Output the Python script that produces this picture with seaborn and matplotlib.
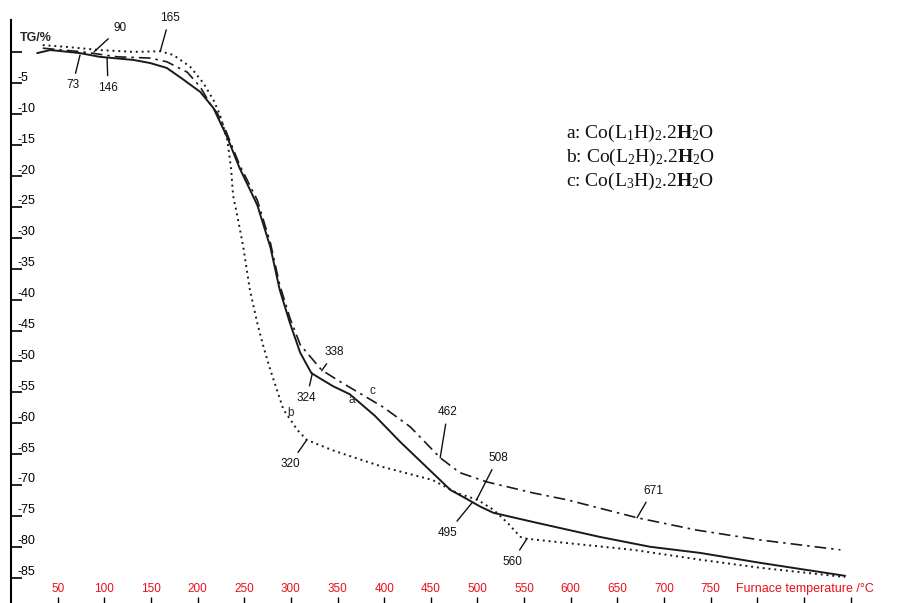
import numpy as np
import pandas as pd
import matplotlib
matplotlib.use('Agg')
import matplotlib.pyplot as plt
import matplotlib.transforms as mtransforms
import seaborn as sns

# TG curves (temperature in degC, mass change in %)
temp_a = [28, 42, 74, 95, 131, 149, 167, 184, 203, 217, 232, 245, 264, 278, 288, 299, 310, 322,
          345, 363, 390, 417, 444, 471, 489, 503, 517, 560, 631, 685, 739, 803, 894]
tg_a = [-0.1, 0.4, -0.1, -0.7, -1.2, -1.7, -2.5, -4.3, -6.4, -9.0, -13.8, -18.7, -24.7, -31.5, -38.4,
        -43.8, -48.6, -51.9, -54.0, -55.3, -58.8, -63.0, -66.9, -70.8, -72.3, -73.5, -74.5, -76.0,
        -78.4, -80.0, -81.0, -82.6, -84.7]

temp_b = [34, 60, 95, 131, 160, 174, 192, 206, 217, 224, 232, 236, 238, 242, 249, 256, 264, 270,
          278, 292, 307, 317, 345, 399, 452, 478, 500, 517, 532, 546, 553, 596, 667, 739, 803, 894]
tg_b = [1.2, 0.9, 0.4, 0.1, 0.2, -0.4, -2.3, -4.9, -7.7, -10.1, -14.3, -19.0, -23.1, -26.0, -31.5,
        -38.4, -43.8, -47.3, -51.4, -57.8, -61.1, -62.7, -64.4, -67.1, -69.2, -71.3, -72.4, -74.0,
        -76.1, -78.4, -78.7, -79.4, -80.5, -82.1, -83.4, -84.9]

temp_c = [34, 77, 114, 149, 167, 189, 203, 213, 221, 229, 245, 264, 278, 288, 299, 310, 324, 333,
          353, 371, 399, 428, 460, 481, 510, 560, 596, 671, 735, 803, 889]
tg_c = [0.7, 0.1, -0.7, -0.9, -1.5, -3.2, -5.6, -8.2, -9.8, -12.2, -18.2, -23.9, -30.8, -37.6, -43.0,
        -47.3, -49.8, -51.4, -53.3, -54.9, -57.4, -60.6, -65.6, -68.0, -69.5, -71.3, -72.4, -75.3,
        -77.3, -78.9, -80.5]

legend_lines = [r'a: Co(L$_1$H)$_2$.2$\mathbf{H}_2$O',
                r'b: Co(L$_2$H)$_2$.2$\mathbf{H}_2$O',
                r'c: Co(L$_3$H)$_2$.2$\mathbf{H}_2$O']

# peak labels: text, point on curve, label position
peak_labels = ['73', '90', '146', '165', '338', '324', '320', '462', '508', '495', '560', '671']
peak_points = [(74, -0.4), (89, 0.1), (103, -0.9), (160, 0.2), (333, -51.5), (323, -51.9),
               (317, -62.7), (460, -65.6), (499, -72.4), (494, -72.9), (553, -78.7), (671, -75.3)]
peak_text = [(66, -5.3), (117, 4.0), (104, -5.7), (170, 5.6), (347, -48.5), (317, -55.9),
             (299, -66.6), (468, -58.2), (522, -65.6), (468, -77.7), (537, -82.4), (688, -70.9)]

x_ticks = list(range(50, 901, 50))
x_ticklabels = [str(t) if t <= 750 else '' for t in x_ticks]
y_ticks = list(range(-85, 1, 5))
y_ticklabels = [str(t) if t != 0 else '' for t in y_ticks]

sns.set_theme(style='white')
plt.rcParams['font.family'] = ['Liberation Sans', 'DejaVu Sans']
plt.rcParams['mathtext.fontset'] = 'custom'
plt.rcParams['mathtext.rm'] = 'Liberation Serif'
plt.rcParams['mathtext.it'] = 'Liberation Serif:italic'
plt.rcParams['mathtext.bf'] = 'Liberation Serif:bold'

fig = plt.figure(figsize=(8.98, 6.03), dpi=100)
ax = fig.add_axes([11 / 898, 0, 887 / 898, 583 / 603])

df_a = pd.DataFrame({'T': temp_a, 'TG': tg_a})
df_b = pd.DataFrame({'T': temp_b, 'TG': tg_b})
df_c = pd.DataFrame({'T': temp_c, 'TG': tg_c})

line_col = '#1a1a1a'
sns.lineplot(data=df_a, x='T', y='TG', ax=ax, color=line_col, lw=1.4, estimator=None)
sns.lineplot(data=df_b, x='T', y='TG', ax=ax, color=line_col, lw=1.4, estimator=None,
             linestyle=(0, (1, 2)))
sns.lineplot(data=df_c, x='T', y='TG', ax=ax, color=line_col, lw=1.2, estimator=None,
             linestyle=(0, (7, 3, 1.5, 3)))

ax.set_xlim(0, 950.7)
ax.set_ylim(-89.1, 5.26)
ax.set_xlabel('')
ax.set_ylabel('')

for s in ['top', 'right', 'bottom']:
    ax.spines[s].set_visible(False)
ax.spines['left'].set_color('black')
ax.spines['left'].set_linewidth(1.5)

ax.set_xticks(x_ticks)
ax.set_xticklabels(x_ticklabels)
ax.set_yticks(y_ticks)
ax.set_yticklabels(y_ticklabels)
ax.tick_params(axis='x', direction='in', length=4, width=1, color='black', pad=-14.5,
               labelsize=8.5, labelcolor='#e8101a', bottom=True)
ax.tick_params(axis='y', direction='in', length=8, width=1.2, color='black', pad=-4.5,
               labelsize=9, labelcolor='black', left=True)

shift = mtransforms.ScaledTranslation(0, 7 / 100, fig.dpi_scale_trans)
for lab in ax.get_yticklabels():
    lab.set_horizontalalignment('left')
    lab.set_transform(lab.get_transform() + shift)

fig.text(20 / 898, 1 - 38 / 603, 'TG/%', fontsize=9, fontweight='bold', va='center', ha='left')
fig.text(736 / 898, 1 - 589 / 603, 'Furnace temperature /°C', fontsize=9, color='#e8101a',
         va='center', ha='left')

for lab, pt, tp in zip(peak_labels, peak_points, peak_text):
    ax.annotate(lab, xy=pt, xytext=tp, fontsize=8.5, ha='center', va='center', color='#111',
                arrowprops=dict(arrowstyle='-', color='#111', lw=1, shrinkA=2, shrinkB=0))

ax.text(365.5, -56.2, 'a', fontsize=8.5, ha='center', va='center')
ax.text(387, -54.8, 'c', fontsize=8.5, ha='center', va='center')
ax.text(300, -58.4, 'b', fontsize=8.5, ha='center', va='center')

for i, t in enumerate(legend_lines):
    fig.text(566 / 898, 1 - (133 + 24 * i) / 603, t, fontsize=14, ha='left', va='center',
             family='Liberation Serif', color='#111')

fig.savefig('out.png', dpi=100)
